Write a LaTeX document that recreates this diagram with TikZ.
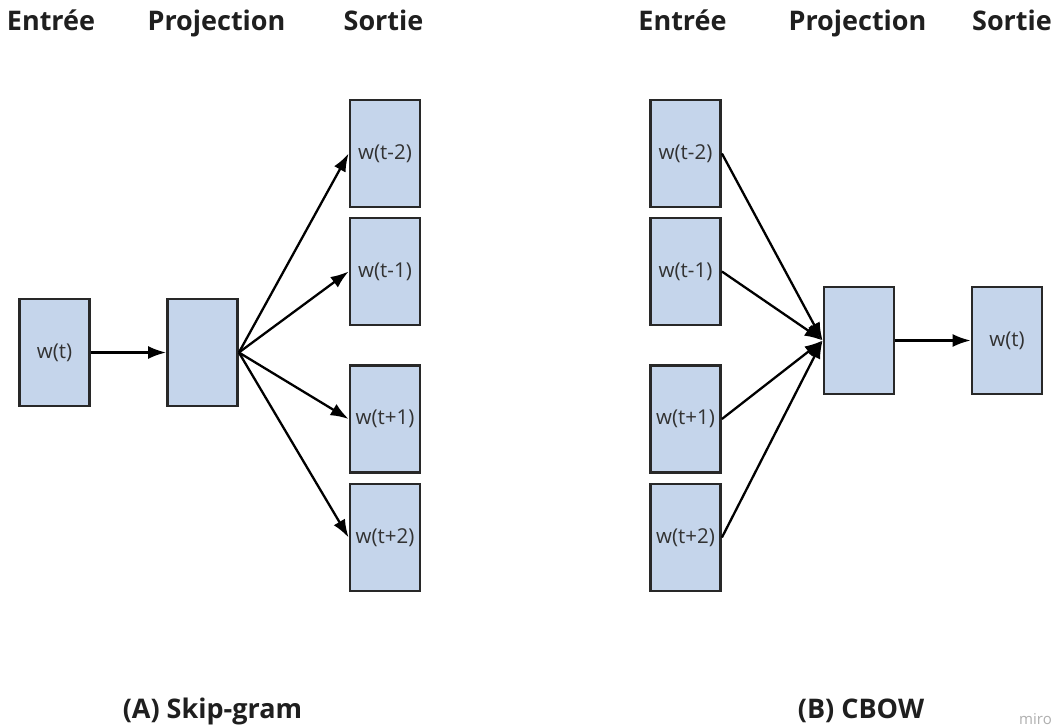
\documentclass[tikz,border=0pt]{standalone}
\usepackage{fontspec}
\setmainfont{Open Sans}
\usetikzlibrary{arrows.meta}
\definecolor{boxfill}{RGB}{197,213,235}
\definecolor{boxline}{RGB}{40,40,40}
\definecolor{labelgray}{RGB}{50,50,50}
\definecolor{markgray}{RGB}{175,175,175}
\begin{document}
\begin{tikzpicture}[x=1pt,y=-1pt,
  wordbox/.style={draw=boxline,line width=2.8pt,fill=boxfill,minimum width=70pt,minimum height=107pt,inner sep=0pt,font=\fontsize{20.5}{24}\selectfont,text=labelgray},
  head/.style={font=\bfseries\fontsize{27}{32}\selectfont,text=black!88,anchor=base},
  caption/.style={font=\bfseries\fontsize{27}{32}\selectfont,text=black!88,anchor=base},
  link/.style={draw=black,line width=2.3pt,-{Latex[length=18pt,width=13pt]}}]
\useasboundingbox (0,0) rectangle (1056,727);
\fill[white] (0,0) rectangle (1056,727);

% column headings
\node[head] (ha1) at (51,31) {Entrée};
\node[head] (ha2) at (216.5,31) {Projection};
\node[head] (ha3) at (383.5,31) {Sortie};
\node[head] (hb1) at (682.5,31) {Entrée};
\node[head] (hb2) at (857.5,31) {Projection};
\node[head] (hb3) at (1012,31) {Sortie};

% (A) Skip-gram
\node[wordbox] (ain) at (54.5,352.5) {w(t)};
\node[wordbox] (aproj) at (202.5,352.5) {};
\node[wordbox] (am2) at (385,153.5) {w(t-2)};
\node[wordbox] (am1) at (385,271.5) {w(t-1)};
\node[wordbox] (ap1) at (385,419) {w(t+1)};
\node[wordbox] (ap2) at (385,537.5) {w(t+2)};
\draw[link] (ain) -- (aproj);
\foreach \t in {am2,am1,ap1,ap2}
  \draw[link] (aproj.east) -- (\t.west);

% (B) CBOW
\node[wordbox] (bm2) at (685.5,153.5) {w(t-2)};
\node[wordbox] (bm1) at (685.5,271.5) {w(t-1)};
\node[wordbox] (bp1) at (685.5,419) {w(t+1)};
\node[wordbox] (bp2) at (685.5,537.5) {w(t+2)};
\node[wordbox] (bproj) at (859,340.5) {};
\node[wordbox] (bout) at (1007,340.5) {w(t)};
\foreach \s in {bm2,bm1,bp1,bp2}
  \draw[link] (\s.east) -- (bproj.west);
\draw[link] (bproj) -- (bout);

% captions
\node[caption] (ca) at (212.5,718) {(A) Skip-gram};
\node[caption] (cb) at (861,718) {(B) CBOW};
\node[font=\fontsize{15}{18}\selectfont,text=markgray,anchor=base] (mk) at (1035.5,724) {miro};
\end{tikzpicture}
\end{document}
